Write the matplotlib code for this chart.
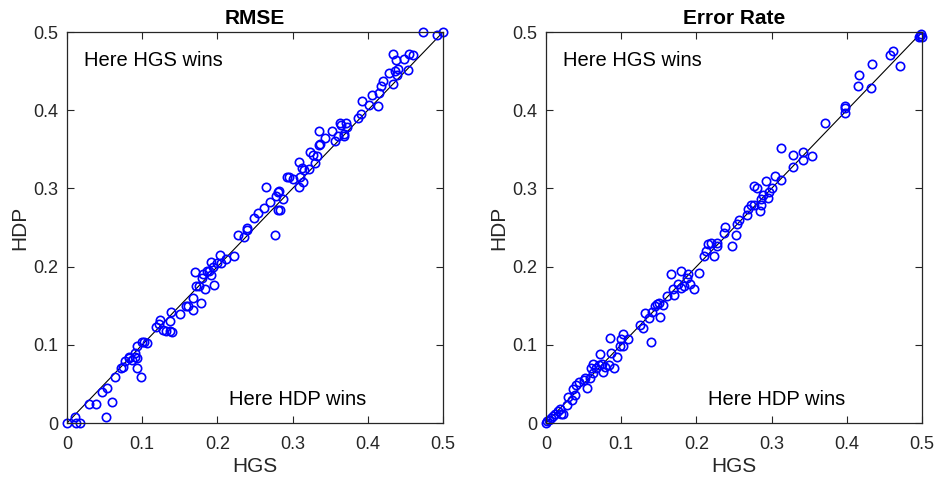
import matplotlib
matplotlib.use('Agg')
import matplotlib.pyplot as plt
import numpy as np

plt.rcParams['font.family'] = ['Liberation Sans', 'DejaVu Sans']

# RMSE panel (HGS vs HDP)
rmse_hgs = [0, 0.011, 0.012, 0.017, 0.029, 0.038, 0.047, 0.053, 0.052, 0.060,
            0.064, 0.072, 0.075, 0.077, 0.082, 0.083, 0.087, 0.090, 0.091, 0.093,
            0.093, 0.098, 0.093, 0.100, 0.103, 0.107, 0.118, 0.122, 0.124, 0.127,
            0.132, 0.137, 0.140, 0.138, 0.137, 0.150, 0.158, 0.161, 0.168, 0.168,
            0.178, 0.170, 0.172, 0.176, 0.179, 0.181, 0.184, 0.186, 0.189, 0.191,
            0.192, 0.195, 0.194, 0.199, 0.203, 0.205, 0.211, 0.222, 0.227, 0.236,
            0.239, 0.239, 0.248, 0.254, 0.262, 0.265, 0.270, 0.276, 0.280, 0.283,
            0.278, 0.281, 0.282, 0.287, 0.292, 0.295, 0.300, 0.308, 0.308, 0.310,
            0.313, 0.315, 0.314, 0.322, 0.323, 0.327, 0.330, 0.332, 0.335, 0.336,
            0.335, 0.343, 0.352, 0.356, 0.361, 0.363, 0.365, 0.368, 0.371, 0.372,
            0.369, 0.387, 0.391, 0.392, 0.402, 0.406, 0.413, 0.415, 0.418, 0.420,
            0.428, 0.433, 0.433, 0.436, 0.438, 0.440, 0.439, 0.448, 0.453, 0.455,
            0.460, 0.474, 0.492, 0.500]
rmse_hdp = [0, 0.008, 0, 0, 0.024, 0.024, 0.040, 0.045, 0.008, 0.027,
            0.059, 0.070, 0.072, 0.079, 0.083, 0.085, 0.081, 0.085, 0.089, 0.098,
            0.070, 0.059, 0.083, 0.104, 0.104, 0.102, 0.123, 0.127, 0.132, 0.119,
            0.118, 0.118, 0.117, 0.142, 0.131, 0.139, 0.150, 0.149, 0.144, 0.160,
            0.154, 0.193, 0.175, 0.175, 0.185, 0.190, 0.172, 0.195, 0.195, 0.206,
            0.189, 0.176, 0.200, 0.204, 0.215, 0.204, 0.210, 0.214, 0.240, 0.238,
            0.247, 0.250, 0.262, 0.268, 0.275, 0.302, 0.283, 0.241, 0.273, 0.273,
            0.290, 0.295, 0.297, 0.287, 0.314, 0.314, 0.312, 0.334, 0.302, 0.314,
            0.326, 0.323, 0.308, 0.325, 0.346, 0.343, 0.332, 0.342, 0.355, 0.357,
            0.373, 0.364, 0.373, 0.360, 0.367, 0.384, 0.381, 0.369, 0.384, 0.379,
            0.367, 0.390, 0.395, 0.412, 0.407, 0.420, 0.405, 0.422, 0.431, 0.438,
            0.447, 0.433, 0.472, 0.450, 0.464, 0.453, 0.445, 0.466, 0.452, 0.472,
            0.471, 0.500, 0.496, 0.500]

# Error rate panel
err_hgs = [0, 0.002, 0.004, 0.007, 0.009, 0.012, 0.016, 0.018, 0.023, 0.020,
           0.029, 0.028, 0.035, 0.036, 0.039, 0.040, 0.044, 0.050, 0.052, 0.054,
           0.058, 0.060, 0.063, 0.062, 0.067, 0.070, 0.072, 0.075, 0.076, 0.079,
           0.084, 0.085, 0.086, 0.091, 0.094, 0.099, 0.100, 0.102, 0.103, 0.109,
           0.125, 0.129, 0.132, 0.137, 0.140, 0.141, 0.145, 0.148, 0.150, 0.152,
           0.155, 0.161, 0.166, 0.169, 0.170, 0.176, 0.179, 0.180, 0.184, 0.187,
           0.189, 0.191, 0.197, 0.203, 0.210, 0.213, 0.216, 0.220, 0.223, 0.227,
           0.228, 0.237, 0.238, 0.248, 0.252, 0.254, 0.257, 0.267, 0.269, 0.273,
           0.276, 0.277, 0.281, 0.284, 0.286, 0.286, 0.289, 0.293, 0.295, 0.296,
           0.300, 0.305, 0.313, 0.313, 0.328, 0.329, 0.342, 0.342, 0.354, 0.371,
           0.397, 0.398, 0.397, 0.415, 0.416, 0.432, 0.434, 0.457, 0.461, 0.471,
           0.497, 0.499, 0.500, 0.496]
err_hdp = [0, 0.002, 0.004, 0.006, 0.009, 0.011, 0.015, 0.018, 0.012, 0.011,
           0.033, 0.023, 0.030, 0.044, 0.036, 0.048, 0.052, 0.055, 0.058, 0.045,
           0.058, 0.070, 0.076, 0.064, 0.070, 0.074, 0.088, 0.076, 0.065, 0.071,
           0.074, 0.109, 0.090, 0.070, 0.084, 0.098, 0.107, 0.114, 0.099, 0.108,
           0.125, 0.122, 0.141, 0.134, 0.104, 0.142, 0.150, 0.152, 0.153, 0.136,
           0.151, 0.163, 0.191, 0.172, 0.164, 0.178, 0.173, 0.195, 0.175, 0.185,
           0.190, 0.178, 0.171, 0.192, 0.214, 0.220, 0.229, 0.230, 0.213, 0.227,
           0.230, 0.243, 0.251, 0.226, 0.240, 0.254, 0.260, 0.266, 0.274, 0.279,
           0.279, 0.303, 0.301, 0.271, 0.279, 0.286, 0.292, 0.310, 0.288, 0.295,
           0.300, 0.316, 0.352, 0.311, 0.328, 0.343, 0.346, 0.336, 0.342, 0.384,
           0.406, 0.403, 0.397, 0.431, 0.445, 0.428, 0.459, 0.470, 0.476, 0.456,
           0.495, 0.497, 0.494, 0.493]

titles = ['RMSE', 'Error Rate']
ticks = [0, 0.1, 0.2, 0.3, 0.4, 0.5]
tick_labels = ['0', '0.1', '0.2', '0.3', '0.4', '0.5']

fig = plt.figure(figsize=(9.37, 4.83), dpi=100)
ax1 = fig.add_axes([0.0715, 0.1242, 0.4013, 0.8095])
ax2 = fig.add_axes([0.5827, 0.1242, 0.4013, 0.8095])

gray = (0.15, 0.15, 0.15)
for ax, xs, ys, title in [(ax1, rmse_hgs, rmse_hdp, titles[0]),
                          (ax2, err_hgs, err_hdp, titles[1])]:
    ax.plot([0, 0.5], [0, 0.5], color='black', linewidth=0.8, zorder=1)
    ax.plot(xs, ys, 'o', markerfacecolor='none', markeredgecolor=(0, 0, 1),
            markersize=6, markeredgewidth=1.2, zorder=2, clip_on=False)
    ax.set_xlim(0, 0.5)
    ax.set_ylim(0, 0.5)
    ax.set_xticks(ticks)
    ax.set_yticks(ticks)
    ax.set_xticklabels(tick_labels)
    ax.set_yticklabels(tick_labels)
    ax.tick_params(direction='in', top=True, right=True, length=5, width=0.8,
                   labelsize=13, colors=gray)
    ax.tick_params(axis='x', pad=9)
    ax.tick_params(axis='y', pad=6)
    for s in ax.spines.values():
        s.set_color(gray)
        s.set_linewidth(0.9)
    ax.set_title(title, fontsize=15, fontweight='bold', pad=6)
    ax.set_xlabel('HGS', fontsize=15, color=gray, labelpad=3)
    ax.set_ylabel('HDP', fontsize=15, color=gray, labelpad=3)
    ax.text(0.023, 0.463, 'Here HGS wins', fontsize=14.5, va='center', ha='left')
    ax.text(0.216, 0.030, 'Here HDP wins', fontsize=14.5, va='center', ha='left')

plt.savefig('out.png', dpi=100)
